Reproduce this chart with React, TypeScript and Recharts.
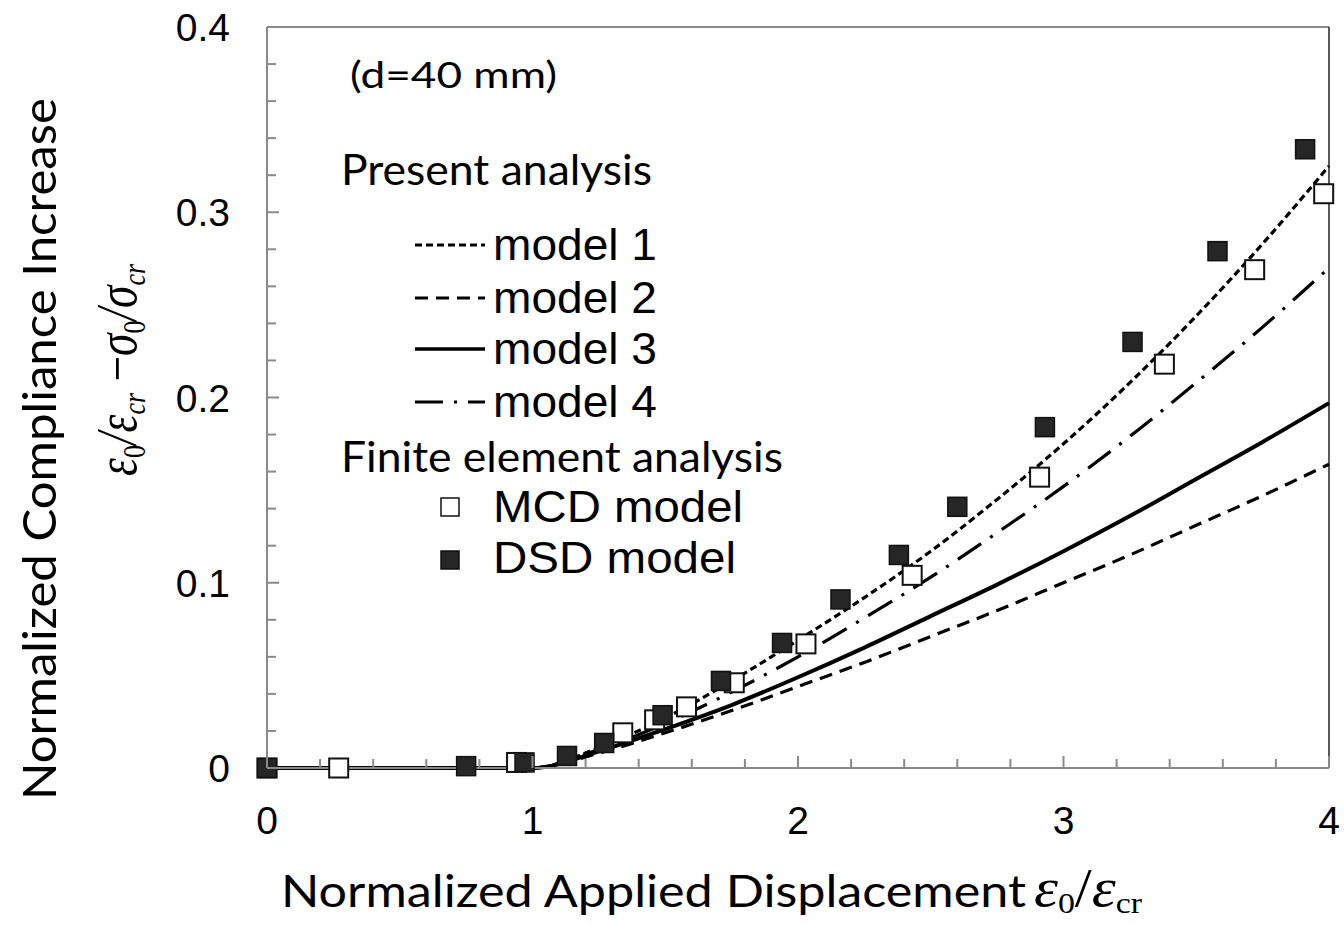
import { ComposedChart, Line, Scatter, XAxis, YAxis, ReferenceLine } from "recharts";

// present analysis curves, sampled along the applied displacement
const modelX = [0, 1, 1.25, 1.5, 1.75, 2, 2.25, 2.5, 2.75, 3, 3.25, 3.5, 3.75, 4];
const model1 = [0, 0, 0.011, 0.027, 0.047, 0.069, 0.092, 0.117, 0.145, 0.175, 0.208, 0.244, 0.283, 0.325];
const model2 = [0, 0, 0.008, 0.019, 0.031, 0.044, 0.057, 0.071, 0.085, 0.1, 0.115, 0.131, 0.147, 0.164];
const model3 = [0, 0, 0.009, 0.021, 0.034, 0.049, 0.065, 0.082, 0.099, 0.117, 0.136, 0.156, 0.176, 0.197];
const model4 = [0, 0, 0.01, 0.024, 0.041, 0.06, 0.081, 0.103, 0.127, 0.152, 0.179, 0.208, 0.238, 0.27];

// finite element results
const mcdX = [0, 0.27, 0.94, 1.34, 1.46, 1.58, 1.76, 2.03, 2.43, 2.91, 3.38, 3.72, 3.98];
const mcdY = [0, 0, 0.003, 0.019, 0.026, 0.033, 0.046, 0.067, 0.104, 0.157, 0.218, 0.269, 0.31];
const dsdX = [0, 0.75, 0.97, 1.13, 1.27, 1.49, 1.71, 1.94, 2.16, 2.38, 2.6, 2.93, 3.26, 3.58, 3.91];
const dsdY = [0, 0.001, 0.003, 0.0065, 0.0135, 0.0285, 0.047, 0.0675, 0.091, 0.115, 0.141, 0.184, 0.23, 0.279, 0.334];

const xTicks = [0, 0.2, 0.4, 0.6, 0.8, 1, 1.2, 1.4, 1.6, 1.8, 2, 2.2, 2.4, 2.6, 2.8, 3, 3.2, 3.4, 3.6, 3.8, 4];
const xLabels = ["0", "1", "2", "3", "4"];
const yTicks = [0, 0.02, 0.04, 0.06, 0.08, 0.1, 0.12, 0.14, 0.16, 0.18, 0.2, 0.22, 0.24, 0.26, 0.28, 0.3, 0.32, 0.34, 0.36, 0.38, 0.4];
const yLabels = ["0", "0.1", "0.2", "0.3", "0.4"];

const SANS = "'Liberation Sans', Arial, sans-serif";
const HUMAN = "Lato, 'Open Sans', sans-serif";
const MATH = "'Liberation Serif', 'DejaVu Serif', serif";
const AXIS = "#8a8a8a";

const DASH1 = "7 4";
const DASH2 = "13 8";
const DASH4 = "28 11 3 11";

const pts = (xs: number[], ys: number[]) => xs.map((x, i) => ({ x, y: ys[i] }));

const XTick = (props: any) => {
  const { x, y, payload } = props;
  const v = payload.value;
  const idx = Math.round(v);
  const major = Math.abs(v - idx) < 1e-6;
  return (
    <g>
      <line x1={x} x2={x} y1={y} y2={y - (major ? 12 : 9)} stroke={AXIS} strokeWidth={2} />
      {major && (
        <text x={x} y={y + 66} textAnchor="middle" fontFamily={SANS} fontSize={39} fill="#000">
          {xLabels[idx]}
        </text>
      )}
    </g>
  );
};

const YTick = (props: any) => {
  const { x, y, payload } = props;
  const v = payload.value;
  const idx = Math.round(v * 10);
  const major = Math.abs(v * 10 - idx) < 1e-6;
  return (
    <g>
      <line x1={x} x2={x + (major ? 12 : 9)} y1={y} y2={y} stroke={AXIS} strokeWidth={2} />
      {major && (
        <text x={x - 37} y={y + 14} textAnchor="end" fontFamily={SANS} fontSize={39} fill="#000">
          {yLabels[idx]}
        </text>
      )}
    </g>
  );
};

const openSquare = (p: any) => (
  <rect x={p.cx - 9.5} y={p.cy - 9.5} width={19} height={19} fill="#fff" stroke="#111" strokeWidth={2} />
);
const filledSquare = (p: any) => (
  <rect x={p.cx - 9.5} y={p.cy - 9.5} width={19} height={19} fill="#262626" stroke="#111" strokeWidth={1.5} />
);

const legendRows = [
  { label: "model 1", dash: DASH1, w: 3, y: 260 },
  { label: "model 2", dash: DASH2, w: 3, y: 313 },
  { label: "model 3", dash: undefined, w: 3.5, y: 364 },
  { label: "model 4", dash: DASH4, w: 3, y: 417 },
];

function Overlay() {
  return (
    <svg
      width={1344}
      height={925}
      style={{ position: "absolute", left: 0, top: 0, pointerEvents: "none" }}
    >
      {/* y axis titles */}
      <text
        transform="translate(56,449) rotate(-90)"
        textAnchor="middle"
        fontFamily={HUMAN}
        fontSize={47}
        textLength={702}
        lengthAdjust="spacingAndGlyphs"
        fill="#000"
      >
        Normalized Compliance Increase
      </text>
      <text
        transform="translate(136,370) rotate(-90)"
        textAnchor="middle"
        fontFamily={MATH}
        fontStyle="italic"
        fontSize={56}
        textLength={212}
        lengthAdjust="spacingAndGlyphs"
        fill="#000"
      >
        <tspan>ε</tspan>
        <tspan fontSize={32} dy={9} fontStyle="normal">0</tspan>
        <tspan dy={-9}>/</tspan>
        <tspan>ε</tspan>
        <tspan fontSize={32} dy={9}>cr</tspan>
        <tspan dy={-9} fontStyle="normal"> −</tspan>
        <tspan>σ</tspan>
        <tspan fontSize={32} dy={9} fontStyle="normal">0</tspan>
        <tspan dy={-9}>/</tspan>
        <tspan>σ</tspan>
        <tspan fontSize={32} dy={9}>cr</tspan>
      </text>

      {/* x axis title */}
      <text
        x={281}
        y={907}
        fontFamily={HUMAN}
        fontSize={44}
        textLength={745}
        lengthAdjust="spacingAndGlyphs"
        fill="#000"
      >
        Normalized Applied Displacement
      </text>
      <text
        x={1034}
        y={906}
        fontFamily={MATH}
        fontStyle="italic"
        fontSize={54}
        textLength={108}
        lengthAdjust="spacingAndGlyphs"
        fill="#000"
      >
        <tspan>ε</tspan>
        <tspan fontSize={30} dy={7} fontStyle="normal">0</tspan>
        <tspan dy={-7} fontStyle="normal">/</tspan>
        <tspan>ε</tspan>
        <tspan fontSize={30} dy={7} fontStyle="normal">cr</tspan>
      </text>

      {/* annotations and legend */}
      <text x={350} y={88} fontFamily={HUMAN} fontSize={36} textLength={207} lengthAdjust="spacingAndGlyphs" fill="#000">
        (d=40 mm)
      </text>
      <text x={341} y={185} fontFamily={HUMAN} fontSize={42} textLength={311} lengthAdjust="spacingAndGlyphs" fill="#000">
        Present analysis
      </text>
      {legendRows.map((r) => (
        <g key={r.label}>
          <line
            x1={415}
            x2={485}
            y1={r.y - 15}
            y2={r.y - 15}
            stroke="#000"
            strokeWidth={r.w}
            strokeDasharray={r.dash}
          />
          <text x={493} y={r.y} fontFamily={SANS} fontSize={44} textLength={164} lengthAdjust="spacingAndGlyphs" fill="#000">
            {r.label}
          </text>
        </g>
      ))}
      <text x={341} y={472} fontFamily={HUMAN} fontSize={42} textLength={442} lengthAdjust="spacingAndGlyphs" fill="#000">
        Finite element analysis
      </text>
      <rect x={441} y={498} width={18} height={18} fill="#fff" stroke="#111" strokeWidth={1.5} />
      <text x={493} y={522} fontFamily={SANS} fontSize={44} textLength={250} lengthAdjust="spacingAndGlyphs" fill="#000">
        MCD model
      </text>
      <rect x={441} y={551} width={18} height={18} fill="#262626" stroke="#111" strokeWidth={1.5} />
      <text x={493} y={573} fontFamily={SANS} fontSize={44} textLength={243} lengthAdjust="spacingAndGlyphs" fill="#000">
        DSD model
      </text>
    </svg>
  );
}

export default function App() {
  const lines = [
    { key: "m2", data: pts(modelX, model2), dash: DASH2, w: 3.2 },
    { key: "m3", data: pts(modelX, model3), dash: undefined, w: 4 },
    { key: "m4", data: pts(modelX, model4), dash: DASH4, w: 3.2 },
    { key: "m1", data: pts(modelX, model1), dash: DASH1, w: 3.2 },
  ];

  return (
    <div style={{ position: "absolute", left: 0, top: 0, width: 1344, height: 925, background: "#fff" }}>
      <ComposedChart width={1344} height={925} margin={{ top: 27, right: 15, left: 207, bottom: 97 }}>
        <XAxis
          type="number"
          dataKey="x"
          domain={[0, 4]}
          ticks={xTicks}
          interval={0}
          height={60}
          tickSize={0}
          tickMargin={0}
          tickLine={false}
          tick={<XTick />}
          axisLine={{ stroke: AXIS, strokeWidth: 2 }}
        />
        <YAxis
          type="number"
          dataKey="y"
          domain={[0, 0.4]}
          ticks={yTicks}
          interval={0}
          width={60}
          tickSize={0}
          tickMargin={0}
          tickLine={false}
          tick={<YTick />}
          axisLine={{ stroke: AXIS, strokeWidth: 2 }}
        />
        <ReferenceLine y={0.4} stroke={AXIS} strokeWidth={2} />
        <ReferenceLine x={4} stroke="#222" strokeWidth={1.5} />
        {lines.map((l) => (
          <Line
            key={l.key}
            data={l.data}
            dataKey="y"
            type="monotone"
            stroke="#000"
            strokeWidth={l.w}
            strokeDasharray={l.dash}
            dot={false}
            activeDot={false}
            isAnimationActive={false}
          />
        ))}
        <Scatter data={pts(mcdX, mcdY)} dataKey="y" shape={openSquare} isAnimationActive={false} />
        <Scatter data={pts(dsdX, dsdY)} dataKey="y" shape={filledSquare} isAnimationActive={false} />
      </ComposedChart>
      <Overlay />
    </div>
  );
}
